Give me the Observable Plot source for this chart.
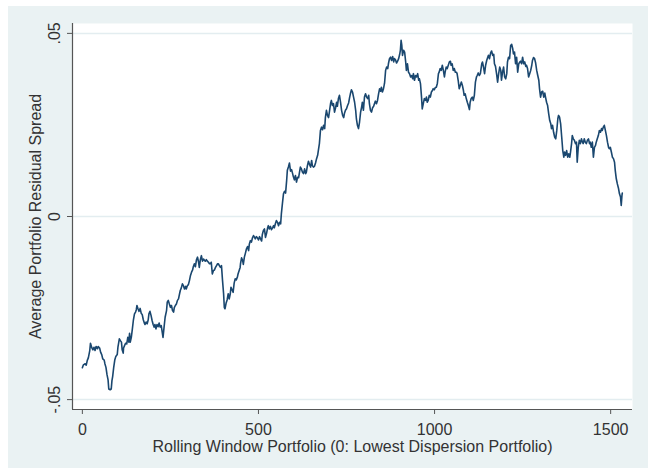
<!DOCTYPE html>
<html><head><meta charset="utf-8">
<script src="https://cdn.jsdelivr.net/npm/d3@7"></script>
<script src="https://cdn.jsdelivr.net/npm/@observablehq/plot@0.6"></script>
<style>
html,body{margin:0;padding:0;background:#fff;}
#wrap{position:absolute;left:8px;top:6px;width:640px;height:462px;background:#eaf2f3;}
</style></head><body><div id="wrap"></div>
<script>
// Rolling window portfolio index (x) and average portfolio residual spread (y)
const portfolio = [
0,3,8,11,14,17,21,23,27,30,33,36,39,43,45,49,52,55,58,62,64,67,70,73,75,79,82,84,86,89,92,95,99,101,105,108,111,113,116,117,120,123,126,129,132,134,136,139,142,145,148,151,153,155,158,161,164,167,170,173,176,178,181,184,187,189,192,195,198,201,204,206,209,212,215,218,221,
224,226,229,232,235,239,241,244,247,250,253,256,259,261,264,267,270,273,276,278,281,284,287,290,293,295,298,301,304,307,310,313,315,318,321,324,327,330,332,335,338,341,344,347,349,352,355,358,361,364,366,369,372,375,378,381,384,386,389,392,395,398,401,403,405,408,411,414,417,420,422,425,428,431,434,437,440,442,445,448,
449,452,455,457,460,463,466,469,472,474,477,480,483,486,489,491,494,497,500,503,506,509,511,514,517,520,523,526,528,531,534,537,540,543,545,548,551,554,557,560,563,565,568,571,574,577,580,582,585,588,591,594,597,599,602,605,608,611,614,616,619,622,625,628,631,634,636,639,642,645,648,651,653,656,659,662,665,668,670,673,
676,679,682,685,688,690,693,696,699,702,705,707,710,713,716,719,722,724,727,730,733,736,739,742,744,747,750,753,756,759,761,764,767,770,773,776,778,781,784,787,790,793,795,798,801,804,807,810,813,815,818,821,824,827,830,832,835,838,841,844,847,849,852,855,858,861,864,867,869,872,875,878,881,884,886,889,892,895,898,901,903,
905,907,909,912,915,918,920,923,926,929,932,935,938,940,943,946,949,952,955,957,960,963,965,968,971,974,977,979,982,985,988,991,994,996,999,1002,1005,1008,1011,1013,1016,1019,1022,1025,1028,1030,1033,1036,1039,1042,1045,1047,1050,1053,1056,1059,1062,1064,1067,1070,1073,1076,1079,1082,1084,1087,1090,1093,1096,1099,1101,1104,1107,1110,1113,1116,1119,1121,1124,1127,1130,
1134,1136,1139,1142,1145,1148,1151,1153,1156,1159,1162,1165,1168,1170,1173,1176,1179,1182,1185,1188,1190,1193,1196,1199,1202,1205,1207,1210,1213,1216,1219,1222,1224,1227,1230,1233,1236,1239,1242,1244,1247,1250,1253,1256,1259,1261,1264,1267,1270,1273,1276,1278,1281,1284,1287,1290,1293,1296,1298,1301,1304,1307,1310,1313,1315,1318,1321,1324,1327,1330,1332,1335,1338,1341,1344,1347,1350,1352,1355,
1358,1361,1364,1367,1369,1372,1375,1378,1381,1384,1386,1389,1391,1394,1397,1400,1403,1405,1408,1411,1414,1417,1420,1422,1425,1428,1431,1434,1437,1440,1442,1445,1448,1451,1454,1457,1459,1462,1465,1468,1471,1474,1476,1479,1482,1485,1488,1491,1494,1496,1499,1502,1505,1508,1511,1513,1516,1519,1522,1525,1528,1530,1532,1533
];
const spread = [
-0.0413,-0.0405,-0.0402,-0.0406,-0.0393,-0.0386,-0.0366,-0.0346,-0.0359,-0.0364,-0.0357,-0.0366,-0.0355,-0.0361,-0.0355,-0.0359,-0.0371,-0.0377,-0.0389,-0.0392,-0.0402,-0.0412,-0.0432,-0.0446,-0.0471,-0.0473,-0.0471,-0.0448,-0.0437,-0.0412,-0.0392,-0.0382,-0.0377,-0.0357,-0.0334,-0.0339,-0.0343,-0.0364,-0.0373,-0.0359,-0.0352,-0.0346,-0.0348,-0.0330,-0.0343,-0.0319,-0.0343,-0.0330,-0.0307,-0.0282,-0.0266,-0.0261,-0.0255,-0.0243,-0.0252,-0.0259,-0.0251,-0.0264,-0.0268,-0.0282,-0.0291,-0.0295,-0.0288,-0.0293,-0.0282,-0.0266,-0.0259,-0.0270,-0.0284,-0.0295,-0.0302,-0.0295,-0.0307,-0.0295,-0.0301,-0.0291,-0.0302,
-0.0298,-0.0311,-0.0330,-0.0302,-0.0275,-0.0257,-0.0234,-0.0229,-0.0239,-0.0248,-0.0243,-0.0257,-0.0261,-0.0249,-0.0243,-0.0239,-0.0229,-0.0225,-0.0211,-0.0202,-0.0195,-0.0184,-0.0189,-0.0198,-0.0191,-0.0198,-0.0189,-0.0186,-0.0175,-0.0161,-0.0152,-0.0146,-0.0137,-0.0129,-0.0137,-0.0118,-0.0111,-0.0125,-0.0139,-0.0118,-0.0107,-0.0122,-0.0116,-0.0120,-0.0122,-0.0118,-0.0122,-0.0125,-0.0129,-0.0128,-0.0125,-0.0157,-0.0148,-0.0146,-0.0139,-0.0134,-0.0129,-0.0129,-0.0134,-0.0139,-0.0134,-0.0175,-0.0211,-0.0248,-0.0252,-0.0237,-0.0228,-0.0211,-0.0225,-0.0211,-0.0193,-0.0200,-0.0207,-0.0182,-0.0170,-0.0173,-0.0166,-0.0157,-0.0148,-0.0139,
-0.0129,-0.0113,-0.0120,-0.0131,-0.0111,-0.0100,-0.0088,-0.0082,-0.0093,-0.0076,-0.0066,-0.0070,-0.0058,-0.0052,-0.0057,-0.0061,-0.0055,-0.0058,-0.0064,-0.0055,-0.0061,-0.0067,-0.0049,-0.0038,-0.0034,-0.0057,-0.0046,-0.0031,-0.0025,-0.0034,-0.0027,-0.0036,-0.0031,-0.0025,-0.0031,-0.0020,-0.0011,-0.0016,-0.0025,-0.0016,-0.0020,0.0007,0.0035,0.0062,0.0069,0.0064,0.0098,0.0126,0.0135,0.0146,0.0124,0.0128,0.0117,0.0109,0.0100,0.0112,0.0094,0.0107,0.0106,0.0118,0.0135,0.0130,0.0121,0.0117,0.0130,0.0117,0.0121,0.0139,0.0151,0.0142,0.0135,0.0153,0.0139,0.0135,0.0137,0.0146,0.0158,0.0167,0.0180,0.0199,
0.0235,0.0244,0.0237,0.0249,0.0240,0.0270,0.0290,0.0276,0.0270,0.0290,0.0310,0.0317,0.0303,0.0308,0.0285,0.0297,0.0312,0.0301,0.0322,0.0331,0.0312,0.0290,0.0276,0.0270,0.0281,0.0290,0.0294,0.0303,0.0310,0.0326,0.0335,0.0346,0.0340,0.0326,0.0312,0.0290,0.0267,0.0249,0.0240,0.0258,0.0285,0.0299,0.0312,0.0290,0.0326,0.0335,0.0326,0.0322,0.0331,0.0308,0.0290,0.0285,0.0297,0.0301,0.0310,0.0315,0.0308,0.0317,0.0335,0.0349,0.0342,0.0353,0.0340,0.0349,0.0364,0.0399,0.0408,0.0404,0.0417,0.0431,0.0435,0.0426,0.0437,0.0422,0.0431,0.0428,0.0419,0.0424,0.0431,0.0443,0.0454,
0.0481,0.0467,0.0440,0.0454,0.0449,0.0422,0.0399,0.0417,0.0394,0.0390,0.0381,0.0385,0.0376,0.0390,0.0372,0.0385,0.0381,0.0390,0.0372,0.0376,0.0363,0.0326,0.0294,0.0308,0.0322,0.0317,0.0326,0.0312,0.0317,0.0331,0.0326,0.0340,0.0344,0.0349,0.0346,0.0352,0.0353,0.0364,0.0390,0.0394,0.0404,0.0399,0.0413,0.0399,0.0381,0.0394,0.0408,0.0404,0.0413,0.0422,0.0424,0.0413,0.0417,0.0399,0.0404,0.0394,0.0394,0.0390,0.0372,0.0349,0.0358,0.0367,0.0358,0.0344,0.0331,0.0335,0.0322,0.0312,0.0303,0.0292,0.0312,0.0322,0.0326,0.0317,0.0331,0.0367,0.0381,0.0385,0.0392,0.0385,0.0390,
0.0417,0.0422,0.0408,0.0390,0.0413,0.0426,0.0435,0.0440,0.0431,0.0446,0.0452,0.0440,0.0443,0.0417,0.0410,0.0390,0.0367,0.0390,0.0408,0.0399,0.0372,0.0394,0.0408,0.0381,0.0376,0.0390,0.0422,0.0435,0.0431,0.0467,0.0470,0.0458,0.0444,0.0449,0.0417,0.0435,0.0394,0.0417,0.0422,0.0424,0.0417,0.0435,0.0417,0.0422,0.0410,0.0413,0.0404,0.0381,0.0390,0.0399,0.0413,0.0426,0.0434,0.0431,0.0419,0.0399,0.0385,0.0372,0.0349,0.0326,0.0340,0.0342,0.0326,0.0337,0.0326,0.0312,0.0303,0.0281,0.0262,0.0253,0.0240,0.0249,0.0230,0.0217,0.0212,0.0235,0.0267,0.0276,0.0271,
0.0253,0.0217,0.0180,0.0162,0.0176,0.0167,0.0180,0.0162,0.0171,0.0162,0.0176,0.0199,0.0221,0.0212,0.0208,0.0199,0.0203,0.0148,0.0189,0.0208,0.0199,0.0212,0.0203,0.0199,0.0212,0.0203,0.0199,0.0208,0.0212,0.0199,0.0203,0.0189,0.0203,0.0162,0.0189,0.0194,0.0203,0.0212,0.0221,0.0235,0.0230,0.0240,0.0235,0.0244,0.0249,0.0235,0.0221,0.0203,0.0189,0.0185,0.0189,0.0176,0.0162,0.0158,0.0148,0.0126,0.0103,0.0089,0.0078,0.0062,0.0053,0.0030,0.0057,0.0064
];
const xTicks = [0, 500, 1000, 1500];
const yTicks = [-0.05, 0, 0.05];
const xLabel = "Rolling Window Portfolio (0: Lowest Dispersion Portfolio)";
const yLabel = "Average Portfolio Residual Spread";
const xDomain = [-28, 1562];
const yDomain = [-0.0527, 0.0527];

const data = portfolio.map((x, i) => ({x, y: spread[i]}));
const fmtY = d => d === 0 ? "0" : d.toFixed(2).replace("0.", ".");
const fmtX = d => String(d);
const font = "'Liberation Sans', Arial, sans-serif";

const chart = Plot.plot({
  width: 640, height: 462,
  marginLeft: 64, marginTop: 17, marginRight: 16, marginBottom: 59,
  style: {background: "transparent", fontFamily: font, fontSize: "16px", color: "#333"},
  x: {domain: xDomain},
  y: {domain: yDomain},
  marks: [
    Plot.frame({fill: "white", stroke: null}),
    Plot.gridY(yTicks, {stroke: "#e3edf0", strokeOpacity: 1, strokeWidth: 1.5}),
    Plot.ruleX([xDomain[0]], {stroke: "#555", strokeWidth: 1.2}),
    Plot.ruleY([yDomain[0]], {stroke: "#555", strokeWidth: 1.2}),
    Plot.axisX(xTicks, {tickSize: 5, tickPadding: 9, tickFormat: fmtX, label: null, stroke: "#555", fill: "#333", fontSize: 16}),
    Plot.axisY(yTicks, {tickSize: 5, tickFormat: () => "", label: null, stroke: "#555"}),
    Plot.text(yTicks, {y: d => d, text: fmtY, frameAnchor: "left", dx: -18, rotate: -90, textAnchor: "middle", lineAnchor: "middle", fontSize: 16, fill: "#333"}),
    Plot.text([xLabel], {text: d => d, frameAnchor: "bottom", dy: 37, textAnchor: "middle", lineAnchor: "middle", fontSize: 16, fill: "#333"}),
    Plot.text([yLabel], {text: d => d, frameAnchor: "left", dx: -37, rotate: -90, textAnchor: "middle", lineAnchor: "middle", fontSize: 16, fill: "#333"}),
    Plot.line(data, {x: "x", y: "y", stroke: "#1a476f", strokeWidth: 1.6})
  ]
});
document.getElementById("wrap").appendChild(chart);
</script>
</body></html>
